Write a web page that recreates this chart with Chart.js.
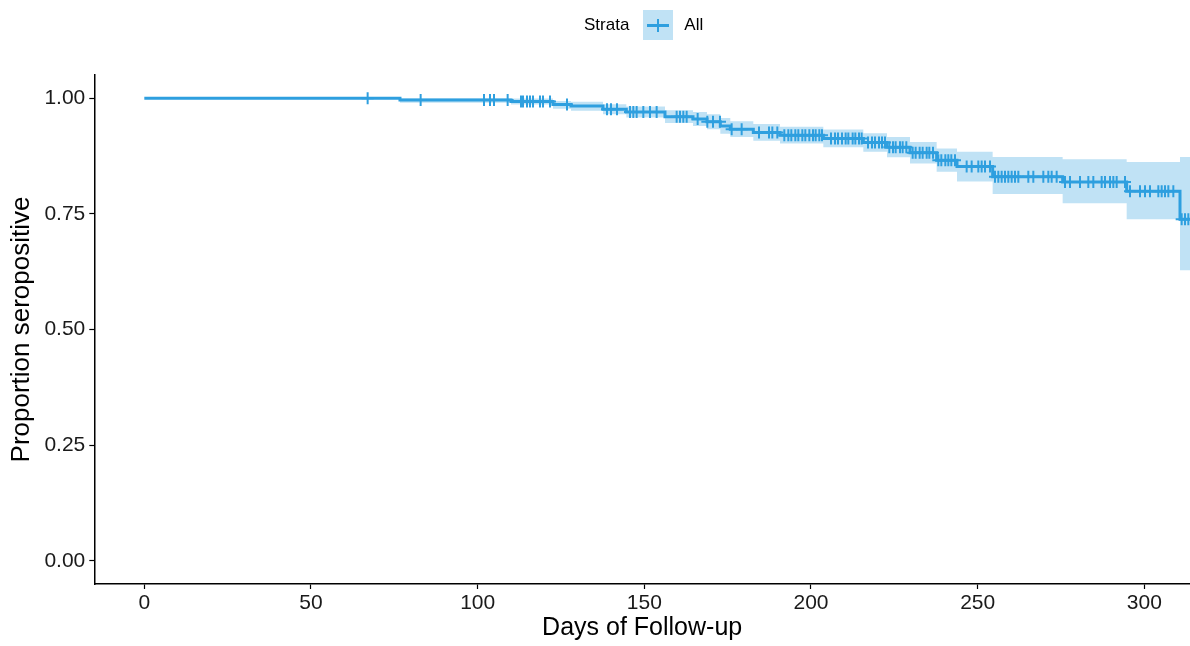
<!DOCTYPE html>
<html>
<head>
<meta charset="utf-8">
<script src="https://cdn.jsdelivr.net/npm/chart.js@4"></script>
<style>
  body { margin: 0; background: #fff; font-family: "Liberation Sans", Arial, sans-serif; }
  #wrap { position: relative; width: 1190px; height: 646px; }
  #legend { position: absolute; top: 10px; left: 584px; height: 30px; display: flex; align-items: center; font-size: 17px; color: #000; }
  #legend .key { position: relative; width: 30px; height: 30px; margin: 0 11px 0 14px; background: rgba(46,159,223,0.3); }
  #legend .key .h { position: absolute; left: 4px; right: 4px; top: 14px; height: 3px; background: #2e9fdf; }
  #legend .key .v { position: absolute; left: 14px; width: 2px; top: 9px; height: 13px; background: #2e9fdf; }
</style>
</head>
<body>
<div id="wrap">
  <canvas id="km" width="1190" height="646"></canvas>
  <div id="legend"><span>Strata</span><div class="key"><div class="h"></div><div class="v"></div></div><span>All</span></div>
</div>
<script>
// Kaplan-Meier estimate
const times    = [0, 76.7, 110.0, 122.6, 128.0, 137.6, 144.6, 156.2, 164.6, 168.8, 172.8, 175.8, 182.7, 190.7, 203.7, 215.7, 222.8, 229.7, 237.7, 243.8, 254.5, 275.5, 294.7, 310.7, 313.7];
const survival = [1, 0.996, 0.993, 0.986, 0.983, 0.976, 0.970, 0.960, 0.955, 0.949, 0.940, 0.933, 0.926, 0.920, 0.913, 0.904, 0.894, 0.882, 0.866, 0.852, 0.830, 0.819, 0.799, 0.738, 0.738];
const upper    = [1, 1.000, 0.999, 0.994, 0.992, 0.987, 0.982, 0.974, 0.970, 0.965, 0.957, 0.950, 0.944, 0.938, 0.932, 0.924, 0.916, 0.905, 0.891, 0.884, 0.873, 0.868, 0.862, 0.873, 0.873];
const lower    = [1, 0.990, 0.986, 0.977, 0.973, 0.965, 0.958, 0.946, 0.940, 0.933, 0.923, 0.916, 0.908, 0.902, 0.894, 0.884, 0.872, 0.859, 0.841, 0.820, 0.793, 0.773, 0.738, 0.628, 0.628];

// censored observations (+ marks)
const censorTimes = [67.0, 82.9, 101.9, 103.7, 104.9, 109.0, 113.0, 113.6, 114.8, 115.7, 116.6, 118.7, 119.6, 121.7, 126.8,
  138.8, 140.0, 141.8, 145.7, 146.7, 147.7, 149.7, 151.7, 153.7, 159.7, 160.7, 161.7, 162.7, 166.0, 168.9, 170.6, 172.7,
  176.2, 179.2, 184.4, 187.4, 188.4, 189.9, 192.0, 193.2, 194.1, 195.3, 196.2, 197.4, 198.3, 199.5, 200.6, 201.4, 202.5, 203.3,
  206.0, 207.2, 208.1, 209.3, 210.4, 211.2, 212.5, 213.3, 214.4, 215.2, 217.1, 218.3, 219.2, 220.4, 221.3, 222.2, 223.5, 224.6,
  225.4, 226.7, 227.5, 228.6, 230.5, 231.4, 232.6, 233.5, 234.7, 235.5, 236.6, 238.2, 239.1, 240.3, 241.2, 242.1, 243.2,
  246.7, 248.2, 250.2, 251.2, 252.2, 253.7, 255.2, 256.2, 257.2, 258.2, 259.2, 260.2, 261.2, 262.2, 265.2, 266.7, 269.7,
  271.2, 272.2, 273.7, 276.2, 277.7, 280.7, 283.2, 284.7, 287.2, 288.2, 289.7, 290.7, 291.7, 294.2, 295.7, 298.7, 300.2,
  301.7, 304.2, 305.2, 306.2, 307.2, 308.7, 311.2, 312.2, 313.2];

const xTicks = [0, 50, 100, 150, 200, 250, 300];
const yTicks = [0, 0.25, 0.5, 0.75, 1];

const blue = "#2e9fdf";
const bandFill = "rgba(46,159,223,0.3)";
const font = "'Liberation Sans', Arial, sans-serif";

// survival value in effect at time t
function survAt(t) {
  let s = survival[0];
  for (let i = 0; i < times.length; i++) {
    if (times[i] <= t) s = survival[i];
  }
  return s;
}

const pts = arr => times.map((t, i) => ({ x: t, y: arr[i] }));

const ctx = document.getElementById("km");
new Chart(ctx, {
  type: "line",
  data: {
    datasets: [
      { label: "upper", data: pts(upper), stepped: "before", borderWidth: 0, pointRadius: 0, fill: false, order: 3 },
      { label: "lower", data: pts(lower), stepped: "before", borderWidth: 0, pointRadius: 0, fill: "-1", backgroundColor: bandFill, order: 2 },
      { label: "All", data: pts(survival), stepped: "before", borderColor: blue, borderWidth: 3, pointRadius: 0, fill: false, order: 1 },
      {
        label: "censor",
        data: censorTimes.map(t => ({ x: t, y: survAt(t) })),
        showLine: false,
        pointStyle: "cross",
        pointRadius: 6,
        pointBorderWidth: 2,
        pointBorderColor: blue,
        order: 0
      }
    ]
  },
  options: {
    responsive: false,
    animation: false,
    layout: { autoPadding: false, padding: { top: 75, right: 0, left: 0, bottom: 0 } },
    plugins: { legend: { display: false }, tooltip: { enabled: false } },
    scales: {
      x: {
        type: "linear",
        min: -15,
        max: 313.7,
        afterBuildTicks: axis => { axis.ticks = xTicks.map(v => ({ value: v })); },
        afterFit: axis => { axis.height = 62; axis.paddingLeft = 0; axis.paddingRight = 0; },
        grid: { drawOnChartArea: false, drawTicks: true, tickLength: 5, tickColor: "#000", tickWidth: 1.2 },
        border: { display: true, color: "#000", width: 1.5 },
        ticks: { color: "#1a1a1a", font: { family: font, size: 21 }, padding: 2, maxRotation: 0 },
        title: { display: true, text: "Days of Follow-up", color: "#000", font: { family: font, size: 25 }, padding: { top: 0, bottom: 3 } }
      },
      y: {
        min: -0.05,
        max: 1.05,
        afterBuildTicks: axis => { axis.ticks = yTicks.map(v => ({ value: v })); },
        afterFit: axis => { axis.width = 94.3; },
        grid: { drawOnChartArea: false, drawTicks: true, tickLength: 5, tickColor: "#000", tickWidth: 1.2 },
        border: { display: true, color: "#000", width: 1.5 },
        ticks: { color: "#1a1a1a", font: { family: font, size: 21 }, padding: 4, callback: v => v.toFixed(2) },
        title: { display: true, text: "Proportion seropositive", color: "#000", font: { family: font, size: 26 }, padding: { top: 6, bottom: 0 } }
      }
    }
  }
});
</script>
</body>
</html>
